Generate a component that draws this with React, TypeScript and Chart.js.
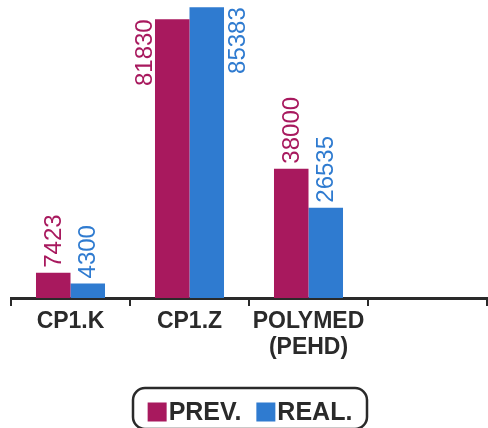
import React, { useEffect, useRef } from "react";
import { Chart, registerables } from "chart.js";

Chart.register(...registerables);

const categories: (string | string[])[] = ["CP1.K", "CP1.Z", ["POLYMED", "(PEHD)"], ""];
const seriesNames = ["PREV.", "REAL."];
const prevValues = [7423, 81830, 38000, null];
const realValues = [4300, 85383, 26535, null];
const seriesColors = ["#A8195E", "#2F7BD0"];

const FONT = "'Liberation Sans', Arial, Helvetica, sans-serif";

const valueLabelPlugin = {
  id: "valueLabels",
  afterDatasetsDraw(chart: any) {
    const ctx = chart.ctx;
    const area = chart.chartArea;
    ctx.save();
    ctx.font = `normal 24px ${FONT}`;
    ctx.textBaseline = "middle";
    chart.data.datasets.forEach((ds: any, di: number) => {
      const meta = chart.getDatasetMeta(di);
      meta.data.forEach((bar: any, i: number) => {
        const v = ds.data[i];
        if (v == null) return;
        const text = String(v);
        const w = ctx.measureText(text).width;
        const gap = 5;
        ctx.fillStyle = ds.backgroundColor;
        ctx.save();
        if (bar.y - gap - w >= area.top) {
          ctx.translate(bar.x, bar.y - gap);
          ctx.rotate(-Math.PI / 2);
          ctx.textAlign = "left";
          ctx.fillText(text, 0, 1);
        } else {
          const half = bar.width / 2;
          const x = di === 0 ? bar.x - half - 11 : bar.x + half + 13;
          ctx.translate(x, bar.y);
          ctx.rotate(-Math.PI / 2);
          ctx.textAlign = "right";
          ctx.fillText(text, 0, 1);
        }
        ctx.restore();
      });
    });
    ctx.restore();
  },
};

const boxLegendPlugin = {
  id: "boxLegend",
  afterDraw(chart: any) {
    const ctx = chart.ctx;
    const area = chart.chartArea;
    const cx = (area.left + area.right) / 2 + 1;
    const sq = 19;
    const tgap = 2;
    const igap = 15;
    const boxH = 41;
    const top = chart.height - boxH + 1;
    ctx.save();
    ctx.font = `bold 25px ${FONT}`;
    const items = chart.data.datasets.map((ds: any) => ({
      label: ds.label,
      color: ds.backgroundColor,
      w: ctx.measureText(ds.label).width,
    }));
    const total = items.reduce((s: number, it: any) => s + sq + tgap + it.w, 0) + igap * (items.length - 1);
    const boxW = Math.max(234, total + 24);
    const left = cx - boxW / 2;
    ctx.lineWidth = 2.5;
    ctx.strokeStyle = "#2a2a2a";
    ctx.beginPath();
    ctx.roundRect(left, top, boxW, boxH, 12);
    ctx.stroke();
    let x = cx - total / 2;
    const cy = top + 24;
    items.forEach((it: any) => {
      ctx.fillStyle = it.color;
      ctx.fillRect(x, cy - sq / 2, sq, sq);
      x += sq + tgap;
      ctx.fillStyle = "#2a2a2a";
      ctx.textAlign = "left";
      ctx.textBaseline = "middle";
      ctx.fillText(it.label, x, cy + 1);
      x += it.w + igap;
    });
    ctx.restore();
  },
};

export default function App() {
  const ref = useRef<HTMLCanvasElement | null>(null);
  useEffect(() => {
    document.body.style.margin = "0";
    const canvas = ref.current!;
    const chart = new Chart(canvas, {
      type: "bar",
      data: {
        labels: categories,
        datasets: [
          { label: seriesNames[0], data: prevValues, backgroundColor: seriesColors[0], borderWidth: 0 },
          { label: seriesNames[1], data: realValues, backgroundColor: seriesColors[1], borderWidth: 0 },
        ],
      },
      options: {
        responsive: false,
        animation: false,
        maintainAspectRatio: false,
        layout: { padding: { left: 11, right: 1, top: 0, bottom: 65 } },
        plugins: { legend: { display: false }, tooltip: { enabled: false } },
        datasets: { bar: { categoryPercentage: 0.58, barPercentage: 1 } },
        scales: {
          x: {
            grid: {
              display: true,
              drawOnChartArea: false,
              drawTicks: true,
              tickLength: 8,
              color: "#2a2a2a",
              lineWidth: 2,
              offset: true,
            },
            border: { display: true, color: "#2a2a2a", width: 3 },
            ticks: {
              color: "#2a2a2a",
              font: { family: FONT, size: 23, weight: "bold", lineHeight: 1.15 },
              padding: 2,
              maxRotation: 0,
              autoSkip: false,
            },
          },
          y: { display: false, min: 0, max: 87500 },
        },
      },
      plugins: [valueLabelPlugin, boxLegendPlugin],
    } as any);
    return () => chart.destroy();
  }, []);
  return <canvas ref={ref} width={488} height={428} style={{ display: "block" }} />;
}
